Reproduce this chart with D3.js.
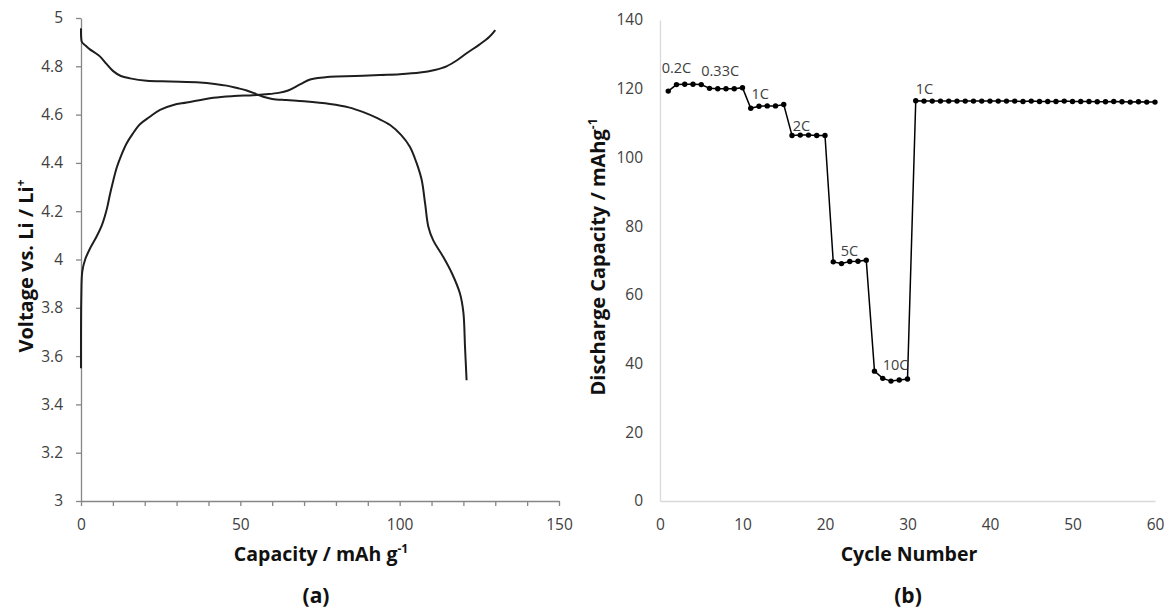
<!DOCTYPE html>
<html>
<head>
<meta charset="utf-8">
<script src="https://cdn.jsdelivr.net/npm/d3@7"></script>
<style>
  body { margin: 0; background: #fff; }
  text { font-family: "Open Sans", "Noto Sans", sans-serif; }
</style>
</head>
<body>
<div class="container"></div>
<script>
// (a) charge / discharge profile
var chargeCap = [0, 0.1, 0.4, 1.3, 3, 4.9, 6.5, 7.5, 8.3, 9.1, 10, 11.2, 12.6, 14.3, 16.2, 18.5, 21.5, 24.8, 29, 33.2, 41.5, 48, 54, 58, 62, 65, 68.7, 71.9, 78.1, 86, 93.8, 100, 106.4, 111, 114.7, 118, 121, 125, 128, 130];
var chargeVolt = [3.55, 3.85, 3.95, 4.0, 4.05, 4.095, 4.14, 4.18, 4.22, 4.27, 4.32, 4.38, 4.43, 4.48, 4.52, 4.56, 4.59, 4.62, 4.64, 4.65, 4.67, 4.677, 4.68, 4.684, 4.69, 4.70, 4.725, 4.745, 4.757, 4.76, 4.764, 4.767, 4.774, 4.785, 4.80, 4.825, 4.854, 4.89, 4.92, 4.95];
var dischargeCap = [0, 0.05, 0.3, 1.5, 2.8, 4.5, 6, 8, 10.1, 12.5, 15.4, 20.6, 28, 37.3, 42, 45.7, 49, 52, 55, 57.2, 60, 64.5, 70, 78.1, 84, 88.6, 93, 97, 100.5, 103.2, 105.3, 106.9, 108, 109, 110.5, 113.7, 116.5, 118.9, 120, 120.5, 121];
var dischargeVolt = [4.957, 4.92, 4.9, 4.885, 4.87, 4.855, 4.84, 4.81, 4.78, 4.76, 4.75, 4.74, 4.737, 4.733, 4.727, 4.72, 4.71, 4.70, 4.685, 4.674, 4.665, 4.66, 4.655, 4.644, 4.63, 4.61, 4.585, 4.557, 4.515, 4.467, 4.40, 4.33, 4.23, 4.136, 4.08, 4.01, 3.94, 3.86, 3.78, 3.64, 3.50];

var capTicks = d3.range(0, 151, 10);
var voltTicks = d3.range(3, 5.001, 0.2);

// (b) rate capability
var cycles = d3.range(1, 61);
var dischargeCapacity = [
  119.3, 121.2, 121.3, 121.3, 121.2,
  120.1, 120.0, 120.0, 120.0, 120.3,
  114.3, 114.9, 115.0, 115.0, 115.4,
  106.4, 106.5, 106.5, 106.4, 106.4,
  69.6, 69.1, 69.7, 69.8, 70.1,
  37.8, 35.7, 34.9, 35.2, 35.5,
  116.5, 116.4, 116.4, 116.4, 116.4, 116.4, 116.4, 116.4, 116.4, 116.4,
  116.4, 116.4, 116.4, 116.3, 116.4, 116.3, 116.3, 116.3, 116.4, 116.3,
  116.3, 116.3, 116.2, 116.2, 116.3, 116.2, 116.1, 116.2, 116.1, 116.1
];
var rateLabels = ['0.2C', '0.33C', '1C', '2C', '5C', '10C', '1C'];
var rateLabelCycle = [0.2, 5.0, 11.1, 16.1, 21.9, 27.0, 31.0];
var rateLabelValue = [124.6, 123.7, 117.0, 107.7, 71.3, 38.1, 118.5];
var cycleTicks = d3.range(0, 61, 10);
var capacityTicks = d3.range(0, 141, 20);

var drawChart = function () {
    var svg = d3.select('.container')
        .append('svg')
        .attr('width', 1169)
        .attr('height', 611)
        .style('display', 'block');

    svg.append('rect')
        .attr('width', 1169)
        .attr('height', 611)
        .style('fill', '#fff');

    // ---------- panel (a) ----------
    var xA = d3.scaleLinear().domain([0, 150]).range([81, 559]);
    var yA = d3.scaleLinear().domain([3, 5]).range([501, 18]);

    var axA = svg.append('g')
        .attr('transform', 'translate(0,' + yA(3) + ')')
        .call(d3.axisBottom(xA)
            .tickValues(capTicks)
            .tickSize(5)
            .tickSizeOuter(0)
            .tickPadding(13)
            .tickFormat(function (d) { return d % 50 === 0 ? d : ''; }));

    var ayA = svg.append('g')
        .attr('transform', 'translate(' + xA(0) + ',0)')
        .call(d3.axisLeft(yA)
            .tickValues(voltTicks)
            .tickSize(5)
            .tickSizeOuter(0)
            .tickPadding(13)
            .tickFormat(function (d) { return +d.toFixed(1); }));

    [axA, ayA].forEach(function (g) {
        g.select('.domain').style('stroke', '#868686').style('stroke-width', 1.3);
        g.selectAll('.tick line').style('stroke', '#868686').style('stroke-width', 1.3);
        g.selectAll('.tick text')
            .style('font-size', '15.5px')
            .style('fill', '#404040');
    });

    var lineA = d3.line()
        .x(function (d) { return xA(d[0]); })
        .y(function (d) { return yA(d[1]); })
        .curve(d3.curveCatmullRom.alpha(0.5));

    svg.append('path')
        .datum(d3.zip(chargeCap, chargeVolt))
        .attr('d', lineA)
        .style('fill', 'none')
        .style('stroke', '#1e1e1e')
        .style('stroke-width', 2);

    svg.append('path')
        .datum(d3.zip(dischargeCap, dischargeVolt))
        .attr('d', lineA)
        .style('fill', 'none')
        .style('stroke', '#1e1e1e')
        .style('stroke-width', 2);

    var tA = svg.append('text')
        .attr('x', 321)
        .attr('y', 561)
        .attr('text-anchor', 'middle')
        .style('font-size', '19.5px')
        .style('font-weight', 'bold')
        .style('fill', '#111');
    tA.append('tspan').text('Capacity / mAh g');
    tA.append('tspan').attr('dy', -8).style('font-size', '12px').text('-1');

    var yTA = svg.append('text')
        .attr('transform', 'translate(33,266) rotate(-90)')
        .attr('text-anchor', 'middle')
        .style('font-size', '20px')
        .style('font-weight', 'bold')
        .style('fill', '#111');
    yTA.append('tspan').text('Voltage vs. Li / Li');
    yTA.append('tspan').attr('dy', -8).style('font-size', '12px').text('+');

    svg.append('text')
        .attr('x', 316)
        .attr('y', 603)
        .attr('text-anchor', 'middle')
        .style('font-size', '21px')
        .style('font-weight', 'bold')
        .style('fill', '#111')
        .text('(a)');

    // ---------- panel (b) ----------
    var xB = d3.scaleLinear().domain([0, 60]).range([660, 1155]);
    var yB = d3.scaleLinear().domain([0, 140]).range([501, 20]);

    var axB = svg.append('g')
        .attr('transform', 'translate(0,' + yB(0) + ')')
        .call(d3.axisBottom(xB)
            .tickValues(cycleTicks)
            .tickSize(0)
            .tickPadding(18));

    var ayB = svg.append('g')
        .attr('transform', 'translate(' + xB(0) + ',0)')
        .call(d3.axisLeft(yB)
            .tickValues(capacityTicks)
            .tickSize(0)
            .tickPadding(17));

    [axB, ayB].forEach(function (g) {
        g.select('.domain').style('stroke', '#d9d9d9').style('stroke-width', 1.3);
        g.selectAll('.tick text')
            .style('font-size', '15.5px')
            .style('fill', '#404040');
    });

    var lineB = d3.line()
        .x(function (d) { return xB(d[0]); })
        .y(function (d) { return yB(d[1]); });

    var ptsB = d3.zip(cycles, dischargeCapacity);

    svg.append('path')
        .datum(ptsB)
        .attr('d', lineB)
        .style('fill', 'none')
        .style('stroke', '#000')
        .style('stroke-width', 1.5);

    svg.append('g')
        .selectAll('circle')
        .data(ptsB)
        .join('circle')
        .attr('cx', function (d) { return xB(d[0]); })
        .attr('cy', function (d) { return yB(d[1]); })
        .attr('r', 2.7)
        .style('fill', '#000');

    svg.append('g')
        .selectAll('text')
        .data(rateLabels)
        .join('text')
        .attr('x', function (d, i) { return xB(rateLabelCycle[i]); })
        .attr('y', function (d, i) { return yB(rateLabelValue[i]); })
        .style('font-size', '14.5px')
        .style('fill', '#404040')
        .text(function (d) { return d; });

    svg.append('text')
        .attr('x', 909)
        .attr('y', 561)
        .attr('text-anchor', 'middle')
        .style('font-size', '19.5px')
        .style('font-weight', 'bold')
        .style('fill', '#111')
        .text('Cycle Number');

    var yTB = svg.append('text')
        .attr('transform', 'translate(605,257) rotate(-90)')
        .attr('text-anchor', 'middle')
        .style('font-size', '20px')
        .style('font-weight', 'bold')
        .style('fill', '#111');
    yTB.append('tspan').text('Discharge Capacity / mAhg');
    yTB.append('tspan').attr('dy', -8).style('font-size', '12px').text('-1');

    svg.append('text')
        .attr('x', 908)
        .attr('y', 603)
        .attr('text-anchor', 'middle')
        .style('font-size', '21px')
        .style('font-weight', 'bold')
        .style('fill', '#111')
        .text('(b)');
};
window.onload = drawChart;
</script>
</body>
</html>
